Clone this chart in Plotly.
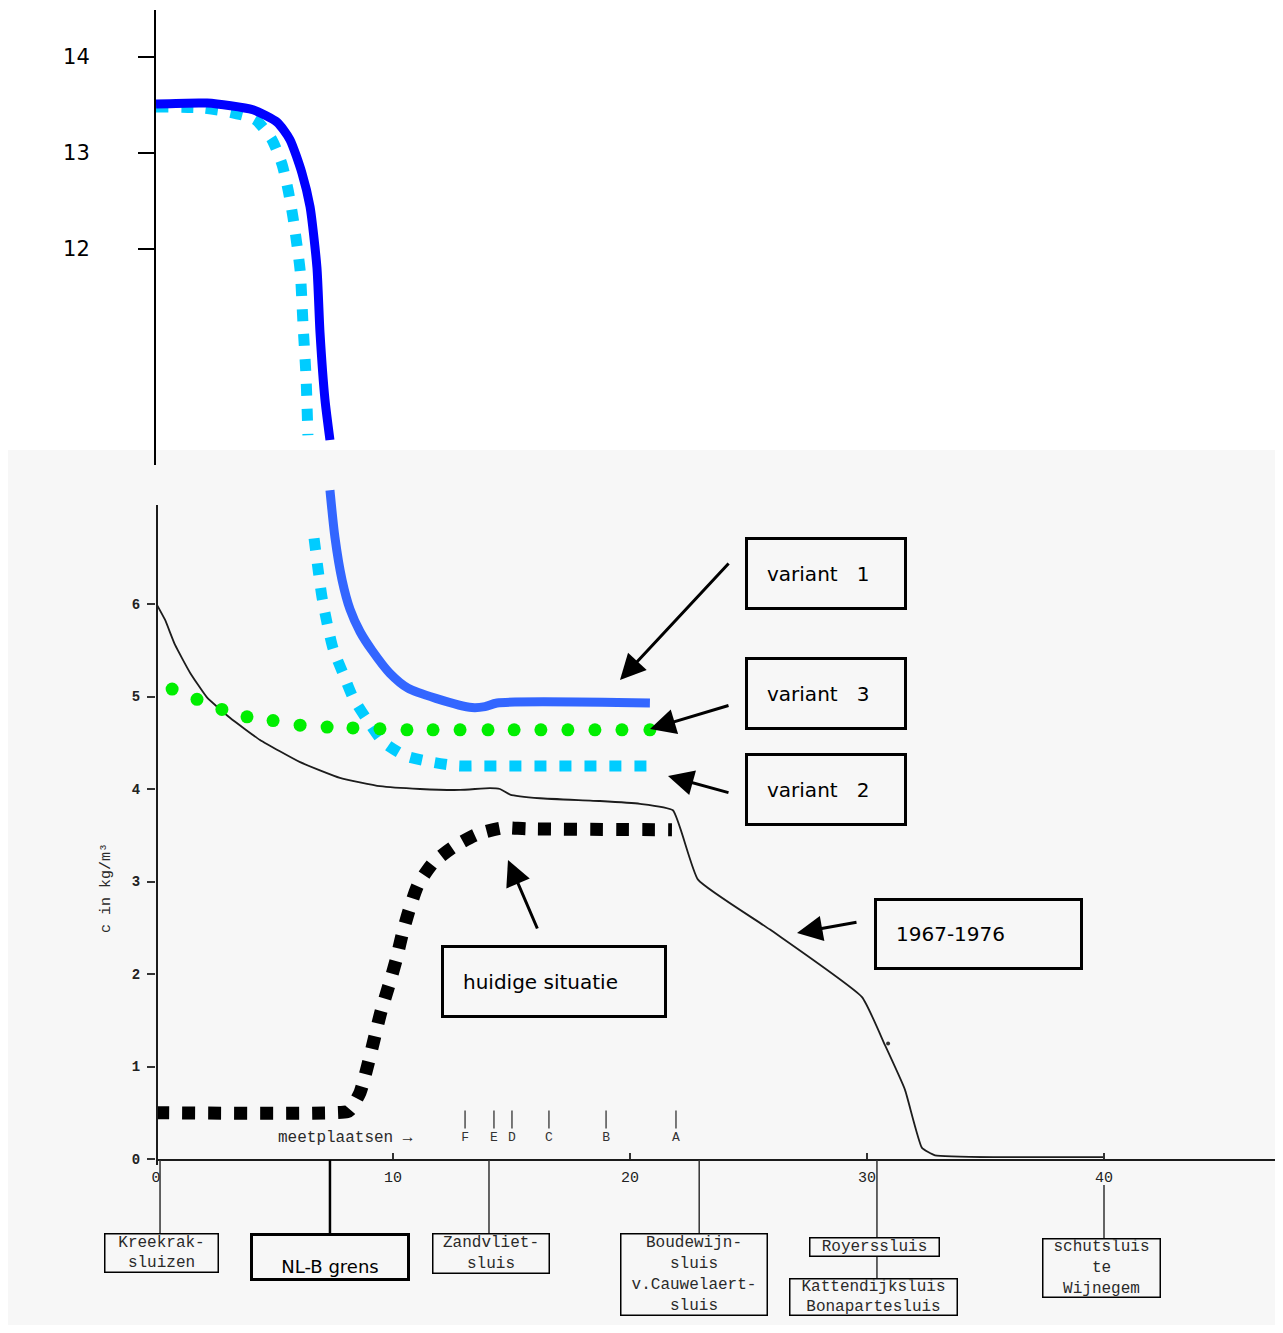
import plotly.graph_objects as go

# ---------------- data ----------------
# variant 1 (solid blue) – upper (broken) panel, c in kg/m3
v1_top_x = [0.0, 2.15, 4.09, 5.11, 5.65, 6.16, 6.50, 6.79, 6.92, 7.13, 7.34]
v1_top_y = [13.51, 13.52, 13.45, 13.32, 13.14, 12.79, 12.44, 11.81, 11.13, 10.43, 10.01]
# variant 1 – lower panel
v1_x = [7.34, 7.55, 7.85, 8.19, 8.61, 9.11, 9.87, 10.63, 11.81, 13.33, 13.88, 14.39, 20.84]
v1_y = [7.23, 6.72, 6.26, 5.94, 5.70, 5.50, 5.25, 5.09, 4.98, 4.88, 4.89, 4.93, 4.93]

# variant 2 (dotted cyan)
v2_top_x = [0.0, 1.94, 3.04, 4.18, 4.89, 5.32, 5.57, 5.78, 6.08, 6.20, 6.33, 6.41]
v2_top_y = [13.48, 13.47, 13.43, 13.35, 13.14, 12.88, 12.62, 12.33, 11.78, 11.23, 10.67, 10.06]
v2_x = [6.67, 6.84, 7.00, 7.22, 7.47, 7.89, 8.31, 8.90, 9.58, 10.51, 11.65, 12.74, 13.80, 20.84]
v2_y = [6.71, 6.37, 6.08, 5.79, 5.52, 5.25, 4.99, 4.75, 4.51, 4.36, 4.29, 4.25, 4.25, 4.25]

# variant 3 (green dots)
v3_x = [0.68, 1.73, 2.78, 3.84, 4.94, 6.08, 7.22, 8.31, 9.45, 10.59, 11.69, 12.83,
        14.01, 15.11, 16.24, 17.38, 18.52, 19.66, 20.84]
v3_y = [5.08, 4.97, 4.86, 4.78, 4.74, 4.69, 4.67, 4.66, 4.65, 4.64, 4.64, 4.64,
        4.64, 4.64, 4.64, 4.64, 4.64, 4.64, 4.64]

# huidige situatie (black dotted)
hs_x = [0.0, 8.06, 8.19, 8.61, 8.90, 9.20, 9.49, 9.83, 10.13, 10.38, 10.68, 11.05,
        11.69, 12.53, 13.54, 14.64, 15.65, 21.77]
hs_y = [0.50, 0.51, 0.53, 0.72, 0.98, 1.29, 1.59, 1.88, 2.15, 2.42, 2.69, 2.96,
        3.20, 3.37, 3.51, 3.58, 3.57, 3.56]

# 1967-1976 (thin black line)
obs_x = [0.0, 0.38, 0.80, 1.43, 2.15, 3.12, 4.39, 6.08, 7.76, 9.45, 11.14, 12.83,
         14.09, 14.51, 14.94, 16.20, 18.73, 20.42, 21.81, 22.87, 25.91, 29.79,
         30.76, 31.60, 32.32, 32.87, 35.61, 40.0]
obs_y = [6.01, 5.83, 5.56, 5.26, 4.99, 4.77, 4.53, 4.29, 4.12, 4.03, 4.00, 3.99,
         4.01, 4.00, 3.94, 3.90, 3.87, 3.84, 3.77, 3.02, 2.48, 1.75,
         1.23, 0.75, 0.12, 0.04, 0.02, 0.02]
stray_x = [30.89]
stray_y = [1.25]

# meetplaatsen
mp_labels = ["F", "E", "D", "C", "B", "A"]
mp_x = [13.04, 14.26, 15.02, 16.58, 18.99, 21.94]

# axis ticks
x_ticks = [0, 10, 20, 30, 40]
y_ticks_low = [0, 1, 2, 3, 4, 5, 6]
y_ticks_top = [12, 13, 14]

# sluices / locations along the x axis
loc_x = [0.17, 7.34, 14.05, 22.92, 30.42, 40.0]

# ---------------- geometry helpers ----------------
OFF = 8                      # page body margin of the html page
W, H = 1283 - OFF, 1333 - 2 * OFF
X0S, Y0S = 156, 1159         # screen pixel of x=0 / y=0 (lower panel)
XR_S, YT_S = 1275, 10        # screen pixel of plot right / top
L, R = X0S - OFF, (OFF + W) - XR_S
T, B = YT_S - OFF, (OFF + H) - Y0S
PW, PH = W - L - R, H - T - B
XS, YS = 23.7, 92.5          # px per unit, lower panel


def px(xp):
    return (xp - X0S) / PW


def py(yp):
    return (Y0S - yp) / PH


MONO = "Liberation Mono"
SANS = "DejaVu Sans"
SCAN = "#1c1c1c"

fig = go.Figure()

# 1967-1976
fig.add_trace(go.Scatter(x=obs_x, y=obs_y, mode="lines", xaxis="x", yaxis="y",
                         line=dict(color=SCAN, width=1.8, shape="spline", smoothing=0.4)))
fig.add_trace(go.Scatter(x=stray_x, y=stray_y, mode="markers", xaxis="x", yaxis="y",
                         marker=dict(color="#333", size=4)))
# huidige situatie
fig.add_trace(go.Scatter(x=hs_x, y=hs_y, mode="lines", xaxis="x", yaxis="y",
                         line=dict(color="#000000", width=13, dash="13px,13px",
                                   shape="spline", smoothing=0.6)))
# variant 2
fig.add_trace(go.Scatter(x=v2_top_x, y=v2_top_y, mode="lines", xaxis="x", yaxis="y2",
                         line=dict(color="#00ccff", width=11, dash="12px,13px",
                                   shape="spline", smoothing=0.6)))
fig.add_trace(go.Scatter(x=v2_x, y=v2_y, mode="lines", xaxis="x", yaxis="y",
                         line=dict(color="#00ccff", width=11, dash="12px,13px",
                                   shape="spline", smoothing=0.6)))
# variant 1
fig.add_trace(go.Scatter(x=v1_top_x, y=v1_top_y, mode="lines", xaxis="x", yaxis="y2",
                         line=dict(color="#0000ff", width=9, shape="spline", smoothing=0.6)))
fig.add_trace(go.Scatter(x=v1_x, y=v1_y, mode="lines", xaxis="x", yaxis="y",
                         line=dict(color="#3366ff", width=9, shape="spline", smoothing=0.7)))
# variant 3
fig.add_trace(go.Scatter(x=v3_x, y=v3_y, mode="markers", xaxis="x", yaxis="y",
                         marker=dict(color="#00ee00", size=13, line=dict(width=0))))
# meetplaatsen: tick marks and letters
fig.add_trace(go.Scatter(x=mp_x, y=[(Y0S - 1119.5) / YS] * len(mp_x), mode="markers",
                         xaxis="x", yaxis="y",
                         marker=dict(symbol="line-ns-open", size=13, color="#333",
                                     line=dict(width=1.3, color="#333"))))
fig.add_trace(go.Scatter(x=mp_x, y=[(Y0S - 1138) / YS] * len(mp_x), mode="text",
                         xaxis="x", yaxis="y", text=mp_labels,
                         textfont=dict(family=MONO, size=13, color="#333")))

shapes = []
# scanned background
shapes.append(dict(type="rect", xref="paper", yref="paper", layer="below",
                   x0=px(8), x1=px(1275), y0=py(1340), y1=py(450),
                   fillcolor="#f7f7f7", line=dict(width=0)))
# lower y-axis line (scanned axis, ends at about 7.07 while the panel reaches higher)
shapes.append(dict(type="line", xref="paper", yref="paper", x0=px(157), x1=px(157),
                   y0=py(1165), y1=py(505), line=dict(color=SCAN, width=2)))
# connector lines below the axis
conn = [(loc_x[0], 1160, 1233, 1.5, "#333"), (loc_x[1], 1160, 1233, 2.5, "#000"),
        (loc_x[2], 1160, 1233, 1.5, "#333"), (loc_x[3], 1160, 1233, 1.5, "#333"),
        (loc_x[4], 1160, 1237, 1.5, "#333"), (loc_x[4], 1257, 1278, 1.5, "#333"),
        (loc_x[5], 1185, 1238, 1.5, "#333")]
for xv, y0, y1, w, c in conn:
    shapes.append(dict(type="line", xref="x", yref="paper", x0=xv, x1=xv,
                       y0=py(y0), y1=py(y1), line=dict(color=c, width=w)))

annotations = []


def box(text, x0, y0, x1, y1, font, bw, pad, align="center", color="#000", valign="middle"):
    annotations.append(dict(
        text=text, xref="paper", yref="paper", x=px(x0), y=py(y0),
        xanchor="left", yanchor="top", showarrow=False, align=align, valign=valign,
        width=(x1 - x0) - 2 * (bw + pad), height=(y1 - y0) - 2 * (bw + pad),
        borderwidth=bw, borderpad=pad, bordercolor=color, font=font))


big = dict(family=SANS, size=20, color="#000")
box("variant\u00a0\u00a0 1", 745, 537, 907, 610, big, 3, 19, "left")
box("variant\u00a0\u00a0 3", 745, 657, 907, 730, big, 3, 19, "left")
box("variant\u00a0\u00a0 2", 745, 753, 907, 826, big, 3, 19, "left")
box("1967-1976", 874, 898, 1083, 970, big, 3, 19, "left")
box("huidige situatie", 441, 945, 667, 1018, big, 3, 19, "left")
box("NL-B grens", 250, 1233, 410, 1281, dict(family=SANS, size=18, color="#000"), 3, 1,
    valign="bottom")

sm = dict(family=MONO, size=16, color="#2a2a2a")
box("Kreekrak-<br>sluizen", 104, 1233, 219, 1273, sm, 1.5, 0)
box("Zandvliet-<br>sluis", 432, 1233, 550, 1274, sm, 1.5, 0)
box("Boudewijn-<br>sluis<br>v.Cauwelaert-<br>sluis", 620, 1233, 768, 1316, sm, 1.5, 0)
box("Royerssluis", 809, 1237, 940, 1257, sm, 1.5, 0)
box("Kattendijksluis<br>Bonapartesluis", 789, 1278, 958, 1316, sm, 1.5, 0)
box("schutsluis<br>te<br>Wijnegem", 1042, 1238, 1161, 1298, sm, 1.5, 0)


def arrow(hx, hy, tx, ty):
    annotations.append(dict(
        text="", xref="x", yref="y", axref="x", ayref="y",
        x=(hx - X0S) / XS, y=(Y0S - hy) / YS,
        ax=(tx - X0S) / XS, ay=(Y0S - ty) / YS,
        showarrow=True, arrowhead=2, arrowsize=1.7, arrowwidth=3, arrowcolor="#000"))


arrow(620, 680, 730, 562)
arrow(650, 729, 730, 705)
arrow(668, 776, 730, 793)
arrow(797, 933, 858, 922)
arrow(508, 860, 538, 930)

# text labels
annotations.append(dict(text="meetplaatsen \u2192", xref="paper", yref="paper",
                        x=px(345), y=py(1138), xanchor="center", yanchor="middle",
                        showarrow=False,
                        font=dict(family=MONO, size=16, color="#2a2a2a")))
annotations.append(dict(text="c in kg/m\u00b3", xref="paper", yref="paper",
                        x=px(106), y=py(888), xanchor="center", yanchor="middle",
                        showarrow=False, textangle=-90,
                        font=dict(family=MONO, size=15, color="#2a2a2a")))

fig.update_layout(
    width=W, height=H,
    margin=dict(l=L, r=R, t=T, b=B, pad=0),
    paper_bgcolor="#ffffff", plot_bgcolor="rgba(0,0,0,0)",
    showlegend=False, hovermode=False,
    shapes=shapes, annotations=annotations,
    xaxis=dict(domain=[0, 1], range=[0, PW / XS], anchor="y",
               showgrid=False, zeroline=False, showline=True,
               linecolor=SCAN, linewidth=2,
               tickvals=x_ticks, ticktext=[str(v) for v in x_ticks],
               ticks="inside", ticklen=6, tickcolor="#333", tickwidth=1.5,
               ticklabelstandoff=3,
               tickfont=dict(family=MONO, size=15, color="#222")),
    yaxis=dict(domain=[0, py(486)], range=[0, (Y0S - 486) / YS], anchor="x",
               showgrid=False, zeroline=False, showline=False,
               tickvals=y_ticks_low, ticks="outside", ticklen=8, tickcolor="#333",
               tickwidth=1.5, ticklabelstandoff=4,
               tickfont=dict(family=MONO, size=14, color="#222", weight="bold")),
    yaxis2=dict(domain=[py(465), 1.0], range=[14.0 - (465 - 57) / 96.0, 14.0 + (57 - 10) / 96.0],
                anchor="x", showgrid=False, zeroline=False, showline=True,
                linecolor="#000", linewidth=2,
                tickvals=y_ticks_top, ticks="outside", ticklen=16, tickcolor="#000",
                tickwidth=2, ticklabelstandoff=44,
                tickfont=dict(family=SANS, size=21, color="#000")),
)

fig.write_html("out.html")
